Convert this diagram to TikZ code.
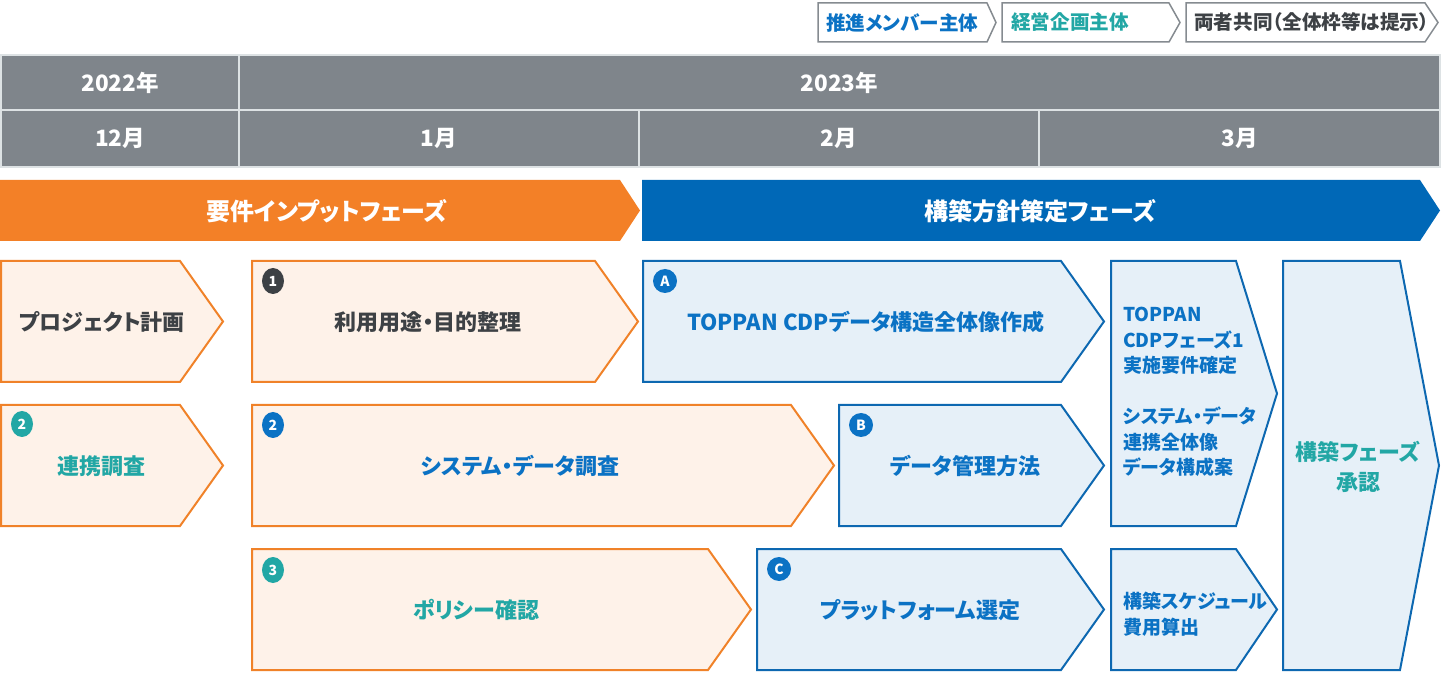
\documentclass[tikz,border=0pt]{standalone}
\usepackage{fontspec}
\setmainfont{Noto Sans CJK JP}[RawFeature=+palt]
\usetikzlibrary{shapes.geometric}
\definecolor{hdrgray}{HTML}{7F858B}
\definecolor{hdrline}{HTML}{DDE2E4}
\definecolor{phaseorange}{HTML}{F38027}
\definecolor{phaseblue}{HTML}{0068B7}
\definecolor{boxorange}{HTML}{F08229}
\definecolor{fillorange}{HTML}{FEF2E9}
\definecolor{boxblue}{HTML}{0D68B1}
\definecolor{fillblue}{HTML}{E6F0F8}
\definecolor{txtdark}{HTML}{3D4145}
\definecolor{txtblue}{HTML}{0B72C4}
\definecolor{txtteal}{HTML}{22A7A5}
\definecolor{lgline}{HTML}{858B90}
\tikzset{x=1pt, y=-1pt,
    cell/.style={
        fill=hdrgray,
        text=white,
        inner sep=0pt,
        font=\bfseries\fontsize{22.5}{26}\selectfont},
    phasetext/.style={
        text=white,
        font=\bfseries\fontsize{24}{28}\selectfont},
    legendbox/.style={
        draw=lgline,
        fill=white,
        line width=1.5pt},
    legendtext/.style={
        anchor=west,
        inner sep=0pt,
        font=\bfseries\fontsize{19.6}{22}\selectfont},
    inbox/.style={
        draw=boxorange,
        fill=fillorange,
        line width=2pt},
    outbox/.style={
        draw=boxblue,
        fill=fillblue,
        line width=2pt},
    boxtext/.style={
        inner sep=0pt,
        font=\bfseries\fontsize{22}{26}\selectfont},
    sidetext/.style={
        anchor=west,
        align=left,
        inner sep=0pt,
        text=txtblue,
        font=\bfseries\fontsize{19}{25.5}\selectfont},
    badge/.style={
        circle,
        inner sep=0pt,
        minimum size=24,
        text=white,
        font=\bfseries\fontsize{14}{14}\selectfont},
    numbadge/.style={
        ellipse,
        inner sep=0pt,
        minimum width=22,
        minimum height=26,
        text=white,
        font=\bfseries\fontsize{14}{14}\selectfont}}
\begin{document}
\begin{tikzpicture}
    \useasboundingbox (0,0) rectangle (1441,684);
    % legend
    \draw[legendbox] (818,3) -- (987,3) -- (996,22.5) -- (987,42) -- (818,42) -- cycle;
    \node[legendtext, text=txtblue] (lgmember) at (826,22.5) {推進メンバー主体};
    \draw[legendbox] (1002,3) -- (1169,3) -- (1180,22.5) -- (1169,42) -- (1002,42) -- cycle;
    \node[legendtext, text=txtteal] (lgplan) at (1011,22.5) {経営企画主体};
    \draw[legendbox] (1186,3) -- (1425,3) -- (1438,22.5) -- (1425,42) -- (1186,42) -- cycle;
    \node[legendtext, text=txtdark] (lgboth) at (1194,22.5) {両者共同（全体枠等は提示）};
    % calendar
    \fill[hdrline] (0,54) rectangle (1441,168);
    \node[cell, minimum width=236, minimum height=53.5] (y2022) at (120,82.75) {2022年};
    \node[cell, minimum width=1199, minimum height=53.5] (y2023) at (839.5,82.75) {2023年};
    \node[cell, minimum width=236, minimum height=54.5] (dec) at (120,138.75) {12月};
    \node[cell, minimum width=398, minimum height=54.5] (jan) at (439,138.75) {1月};
    \node[cell, minimum width=398, minimum height=54.5] (feb) at (839,138.75) {2月};
    \node[cell, minimum width=399, minimum height=54.5] (mar) at (1239.5,138.75) {3月};
    % phases
    \fill[phaseorange] (0,180) -- (620,180) -- (640,210.5) -- (620,241) -- (0,241) -- cycle;
    \node[phasetext] (inputph) at (327,211) {要件インプットフェーズ};
    \fill[phaseblue] (642,180) -- (1420,180) -- (1440,210.5) -- (1420,241) -- (642,241) -- cycle;
    \node[phasetext] (buildph) at (1040,211) {構築方針策定フェーズ};
    % row 1
    \draw[inbox] (1,261) -- (180,261) -- (223,321.5) -- (180,382) -- (1,382) -- cycle;
    \node[boxtext, text=txtdark] (plan) at (102,322) {プロジェクト計画};
    \draw[inbox] (252,261) -- (595,261) -- (638,321.5) -- (595,382) -- (252,382) -- cycle;
    \node[boxtext, text=txtdark] (usage) at (428,322) {利用用途・目的整理};
    \node[numbadge, fill=txtdark] (b1) at (273,281) {1};
    \draw[outbox] (643,261) -- (1061,261) -- (1104,321.5) -- (1061,382) -- (643,382) -- cycle;
    \node[boxtext, text=txtblue] (cdp) at (866,322) {TOPPAN CDPデータ構造全体像作成};
    \node[badge, fill=txtblue] (bA) at (665,281) {A};
    % row 2
    \draw[inbox] (1,405) -- (180,405) -- (223,465.5) -- (180,526) -- (1,526) -- cycle;
    \node[boxtext, text=txtteal] (link) at (101,466) {連携調査};
    \node[numbadge, fill=txtteal] (b2a) at (22,424) {2};
    \draw[inbox] (252,405) -- (791,405) -- (834,465.5) -- (791,526) -- (252,526) -- cycle;
    \node[boxtext, text=txtblue] (sys) at (520,466) {システム・データ調査};
    \node[numbadge, fill=txtblue] (b2b) at (273,425) {2};
    \draw[outbox] (839,405) -- (1061,405) -- (1104,465.5) -- (1061,526) -- (839,526) -- cycle;
    \node[boxtext, text=txtblue] (mgmt) at (965,466) {データ管理方法};
    \node[badge, fill=txtblue] (bB) at (861,425) {B};
    % row 3
    \draw[inbox] (252,549) -- (708,549) -- (751,609.5) -- (708,670) -- (252,670) -- cycle;
    \node[boxtext, text=txtteal] (policy) at (476,610) {ポリシー確認};
    \node[numbadge, fill=txtteal] (b3) at (273,570) {3};
    \draw[outbox] (757,549) -- (1061,549) -- (1104,609.5) -- (1061,670) -- (757,670) -- cycle;
    \node[boxtext, text=txtblue] (pf) at (920,610) {プラットフォーム選定};
    \node[badge, fill=txtblue] (bC) at (779,569) {C};
    % right column
    \draw[outbox] (1111,261) -- (1236,261) -- (1277,393.5) -- (1236,526) -- (1111,526) -- cycle;
    \node[sidetext] (req) at (1123,392) {TOPPAN\\CDPフェーズ1\\実施要件確定\\[25.5pt]システム・データ\\連携全体像\\データ構成案};
    \draw[outbox] (1111,549) -- (1236,549) -- (1277,609.5) -- (1236,670) -- (1111,670) -- cycle;
    \node[sidetext] (cost) at (1123,614) {構築スケジュール\\費用算出};
    \draw[outbox] (1283,261) -- (1400,261) -- (1439,465.5) -- (1400,670) -- (1283,670) -- cycle;
    \node[boxtext, align=center, text=txtteal, font=\bfseries\fontsize{22}{30}\selectfont] (approve) at (1358,467) {構築フェーズ\\承認};
\end{tikzpicture}
\end{document}
